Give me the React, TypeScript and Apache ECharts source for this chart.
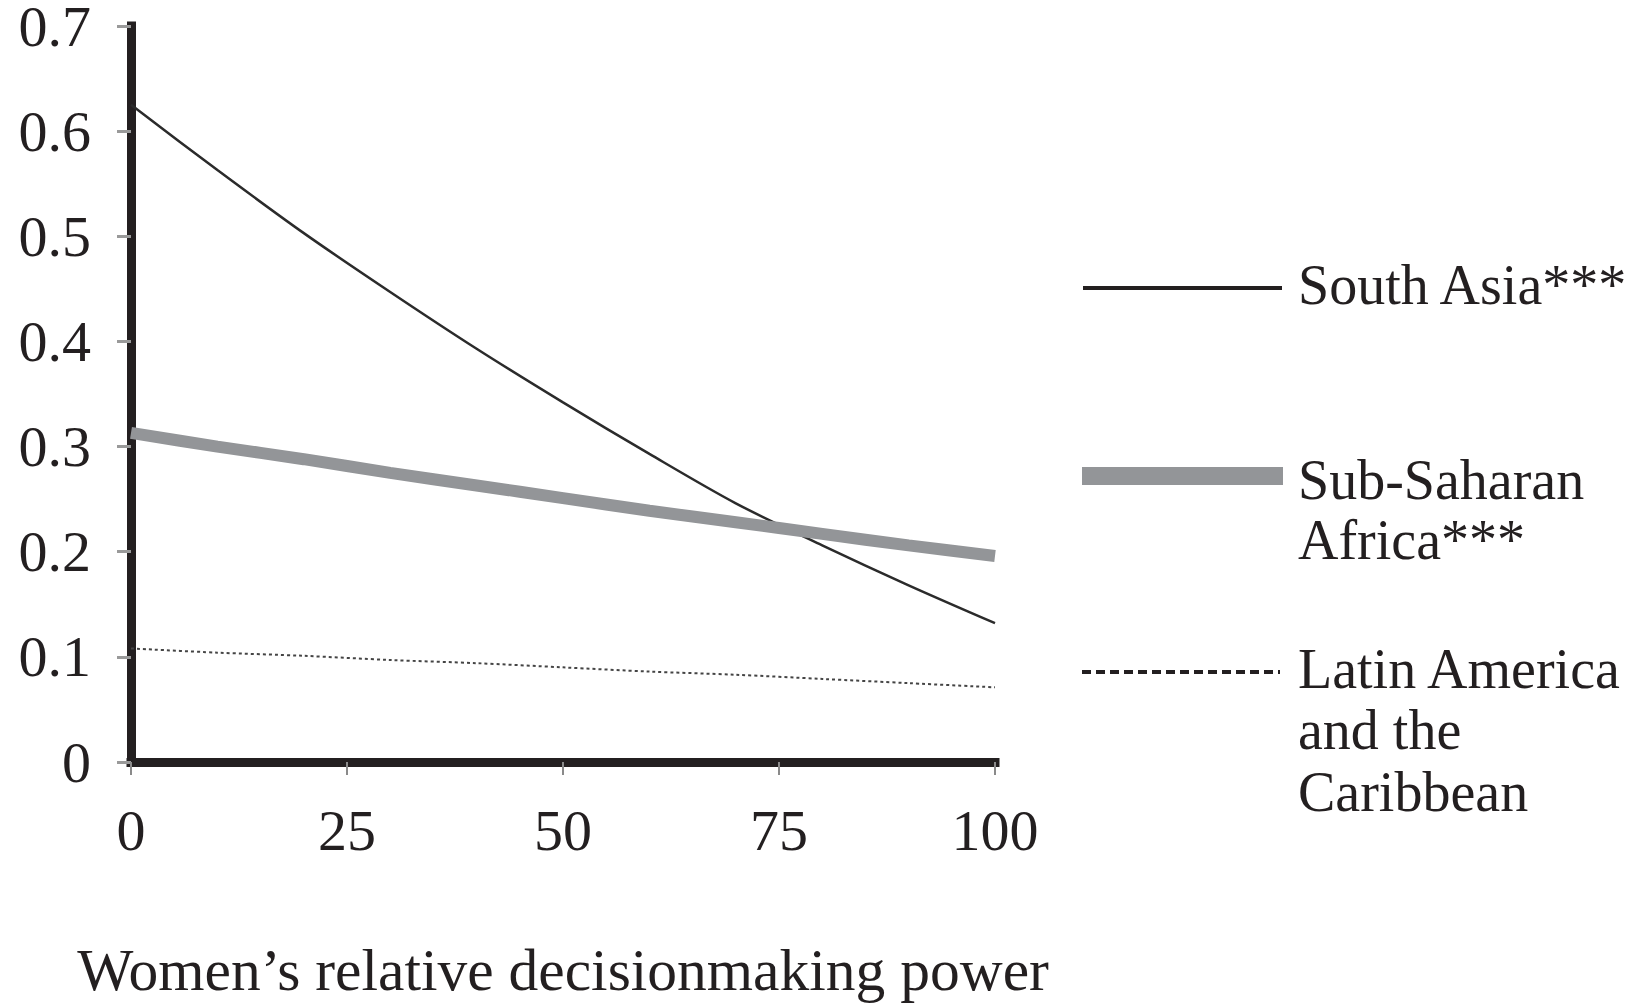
import React, { useEffect, useRef } from "react";
import * as echarts from "echarts";

const xValues = [0, 10, 20, 30, 40, 50, 60, 70, 80, 90, 100];
const southAsia = [0.625, 0.563, 0.503, 0.447, 0.393, 0.342, 0.293, 0.246, 0.206, 0.168, 0.132];
const subSaharanAfrica = [0.313, 0.300, 0.288, 0.275, 0.263, 0.251, 0.239, 0.228, 0.217, 0.206, 0.196];
const latinAmerica = [0.108, 0.104, 0.101, 0.097, 0.094, 0.090, 0.086, 0.083, 0.079, 0.075, 0.071];

const xAxisTitle = "Women\u2019s relative decisionmaking power";
const legendSouthAsia = ["South Asia***"];
const legendSSA = ["Sub-Saharan", "Africa***"];
const legendLatin = ["Latin America", "and the", "Caribbean"];

const FONT = "'Liberation Serif', 'Times New Roman', serif";
const INK = "#231f20";
const GRAY = "#939598";

const pairs = (ys: number[]) => xValues.map((x, i) => [x, ys[i]]);

export default function App() {
  const ref = useRef<HTMLDivElement>(null);
  useEffect(() => {
    if (!ref.current) return;
    const chart = echarts.init(ref.current, undefined, { renderer: "svg" });
    const textStyle = { fontFamily: FONT, fontSize: 56, fill: INK };
    const mk = (t: string, y: number) => ({
      type: "text",
      x: 1298,
      y,
      style: { ...textStyle, text: t, textVerticalAlign: "middle", verticalAlign: "middle" },
    });
    const legendGraphics: any[] = [
      { type: "line", shape: { x1: 1083, y1: 288, x2: 1282, y2: 288 }, style: { stroke: INK, lineWidth: 4 } },
      { type: "rect", shape: { x: 1082, y: 467, width: 201, height: 18 }, style: { fill: GRAY } },
      { type: "line", shape: { x1: 1082, y1: 672, x2: 1280, y2: 672 }, style: { stroke: INK, lineWidth: 4, lineDash: [9, 5] } },
      ...legendSouthAsia.map((t, i) => mk(t, 284.5 + i * 60)),
      ...legendSSA.map((t, i) => mk(t, 479.5 + i * 60)),
      ...legendLatin.map((t, i) => mk(t, 668.5 + i * 61.5)),
    ];
    chart.setOption({
      animation: false,
      backgroundColor: "#ffffff",
      grid: { left: 131, right: 642, top: 26, bottom: 241, containLabel: false, outerBoundsMode: "none" },
      xAxis: {
        type: "value",
        min: 0,
        max: 100,
        interval: 25,
        name: xAxisTitle,
        nameLocation: "middle",
        nameGap: 178,
        nameTextStyle: { fontFamily: FONT, fontSize: 59.5, color: INK },
        axisLine: { show: true, lineStyle: { color: INK, width: 9, cap: "square" } },
        axisTick: { show: true, length: 13, lineStyle: { color: "#8a8a8a", width: 2 } },
        axisLabel: { fontFamily: FONT, fontSize: 58, color: INK, margin: 39 },
        splitLine: { show: false },
      },
      yAxis: {
        type: "value",
        min: 0,
        max: 0.7,
        interval: 0.1,
        axisLine: { show: true, onZero: false, lineStyle: { color: INK, width: 9, cap: "square" } },
        axisTick: { show: true, length: 14, lineStyle: { color: "#9a9a9a", width: 3 } },
        axisLabel: { fontFamily: FONT, fontSize: 58, lineHeight: 46, color: INK, margin: 40 },
        splitLine: { show: false },
      },
      series: [
        {
          name: "South Asia***",
          type: "line",
          data: pairs(southAsia),
          smooth: 0.3,
          showSymbol: false,
          lineStyle: { color: "#2b2b2b", width: 2.5 },
        },
        {
          name: "Sub-Saharan Africa***",
          type: "line",
          data: pairs(subSaharanAfrica),
          smooth: 0.3,
          showSymbol: false,
          lineStyle: { color: GRAY, width: 12 },
        },
        {
          name: "Latin America and the Caribbean",
          type: "line",
          data: pairs(latinAmerica),
          smooth: 0.3,
          showSymbol: false,
          lineStyle: { color: "#444444", width: 2, type: [3, 3] },
        },
      ],
      graphic: legendGraphics,
    });
    return () => chart.dispose();
  }, []);
  return <div ref={ref} style={{ position: "absolute", left: 0, top: 0, width: 1637, height: 1003 }} />;
}
